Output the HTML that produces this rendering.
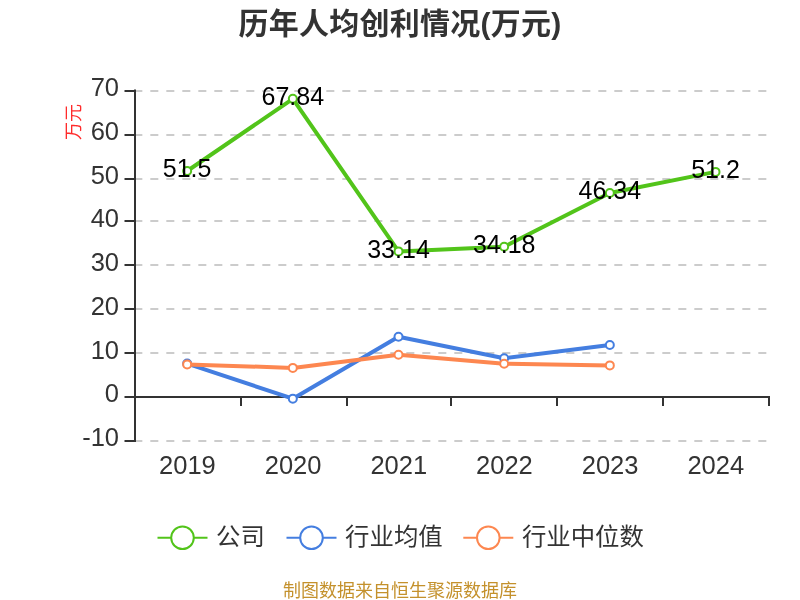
<!DOCTYPE html><html><head><meta charset="utf-8"><title>历年人均创利情况</title><style>html,body{margin:0;padding:0;background:#fff;overflow:hidden;}svg{display:block;will-change:transform;}</style></head><body>
<svg width="800" height="600" viewBox="0 0 800 600" font-family='"Liberation Sans", "Noto Sans CJK SC", sans-serif'>
<rect width="800" height="600" fill="#fff"/>
<text x="400" y="33.8" text-anchor="middle" font-size="30" font-weight="bold" letter-spacing="0.25" fill="#333">历年人均创利情况(万元)</text>
<text transform="translate(80,122) rotate(-90)" text-anchor="middle" font-size="18" fill="#ff2b2b">万元</text>
<line x1="134.33" y1="91" x2="769" y2="91" stroke="#ccc" stroke-width="2" stroke-dasharray="8 8"/>
<line x1="134.33" y1="135" x2="769" y2="135" stroke="#ccc" stroke-width="2" stroke-dasharray="8 8"/>
<line x1="134.33" y1="179" x2="769" y2="179" stroke="#ccc" stroke-width="2" stroke-dasharray="8 8"/>
<line x1="134.33" y1="221" x2="769" y2="221" stroke="#ccc" stroke-width="2" stroke-dasharray="8 8"/>
<line x1="134.33" y1="265" x2="769" y2="265" stroke="#ccc" stroke-width="2" stroke-dasharray="8 8"/>
<line x1="134.33" y1="309" x2="769" y2="309" stroke="#ccc" stroke-width="2" stroke-dasharray="8 8"/>
<line x1="134.33" y1="353" x2="769" y2="353" stroke="#ccc" stroke-width="2" stroke-dasharray="8 8"/>
<line x1="134.33" y1="441" x2="769" y2="441" stroke="#ccc" stroke-width="2" stroke-dasharray="8 8"/>
<line x1="135" y1="89.5" x2="135" y2="442" stroke="#333" stroke-width="2"/>
<line x1="124.5" y1="91" x2="135" y2="91" stroke="#333" stroke-width="2"/>
<text x="119" y="96.00" text-anchor="end" font-size="25.5" fill="#333">70</text>
<line x1="124.5" y1="135" x2="135" y2="135" stroke="#333" stroke-width="2"/>
<text x="119" y="139.75" text-anchor="end" font-size="25.5" fill="#333">60</text>
<line x1="124.5" y1="179" x2="135" y2="179" stroke="#333" stroke-width="2"/>
<text x="119" y="183.50" text-anchor="end" font-size="25.5" fill="#333">50</text>
<line x1="124.5" y1="221" x2="135" y2="221" stroke="#333" stroke-width="2"/>
<text x="119" y="227.25" text-anchor="end" font-size="25.5" fill="#333">40</text>
<line x1="124.5" y1="265" x2="135" y2="265" stroke="#333" stroke-width="2"/>
<text x="119" y="271.00" text-anchor="end" font-size="25.5" fill="#333">30</text>
<line x1="124.5" y1="309" x2="135" y2="309" stroke="#333" stroke-width="2"/>
<text x="119" y="314.75" text-anchor="end" font-size="25.5" fill="#333">20</text>
<line x1="124.5" y1="353" x2="135" y2="353" stroke="#333" stroke-width="2"/>
<text x="119" y="358.50" text-anchor="end" font-size="25.5" fill="#333">10</text>
<line x1="124.5" y1="397" x2="135" y2="397" stroke="#333" stroke-width="2"/>
<text x="119" y="402.25" text-anchor="end" font-size="25.5" fill="#333">0</text>
<line x1="124.5" y1="441" x2="135" y2="441" stroke="#333" stroke-width="2"/>
<text x="119" y="446.00" text-anchor="end" font-size="25.5" fill="#333">-10</text>
<line x1="134" y1="397" x2="770" y2="397" stroke="#333" stroke-width="2"/>
<line x1="241" y1="397" x2="241" y2="406" stroke="#333" stroke-width="2"/>
<line x1="347" y1="397" x2="347" y2="406" stroke="#333" stroke-width="2"/>
<line x1="451" y1="397" x2="451" y2="406" stroke="#333" stroke-width="2"/>
<line x1="557" y1="397" x2="557" y2="406" stroke="#333" stroke-width="2"/>
<line x1="663" y1="397" x2="663" y2="406" stroke="#333" stroke-width="2"/>
<line x1="769" y1="397" x2="769" y2="406" stroke="#333" stroke-width="2"/>
<text x="187.46" y="474" text-anchor="middle" font-size="25.5" fill="#333">2019</text>
<text x="293.13" y="474" text-anchor="middle" font-size="25.5" fill="#333">2020</text>
<text x="398.80" y="474" text-anchor="middle" font-size="25.5" fill="#333">2021</text>
<text x="504.46" y="474" text-anchor="middle" font-size="25.5" fill="#333">2022</text>
<text x="610.13" y="474" text-anchor="middle" font-size="25.5" fill="#333">2023</text>
<text x="715.80" y="474" text-anchor="middle" font-size="25.5" fill="#333">2024</text>
<polyline points="187.16,171.00 292.83,98.85 398.50,251.40 504.16,246.70 609.83,193.00 715.50,171.90" fill="none" stroke="#52c41a" stroke-width="4" stroke-linejoin="round"/>
<circle cx="187.16" cy="171.00" r="4" fill="#fff" stroke="#52c41a" stroke-width="2"/>
<circle cx="292.83" cy="98.85" r="4" fill="#fff" stroke="#52c41a" stroke-width="2"/>
<circle cx="398.50" cy="251.40" r="4" fill="#fff" stroke="#52c41a" stroke-width="2"/>
<circle cx="504.16" cy="246.70" r="4" fill="#fff" stroke="#52c41a" stroke-width="2"/>
<circle cx="609.83" cy="193.00" r="4" fill="#fff" stroke="#52c41a" stroke-width="2"/>
<circle cx="715.50" cy="171.90" r="4" fill="#fff" stroke="#52c41a" stroke-width="2"/>
<polyline points="187.16,363.60 292.83,398.65 398.50,336.70 504.16,358.20 609.83,345.00" fill="none" stroke="#447ee0" stroke-width="4" stroke-linejoin="round"/>
<circle cx="187.16" cy="363.60" r="4" fill="#fff" stroke="#447ee0" stroke-width="2"/>
<circle cx="292.83" cy="398.65" r="4" fill="#fff" stroke="#447ee0" stroke-width="2"/>
<circle cx="398.50" cy="336.70" r="4" fill="#fff" stroke="#447ee0" stroke-width="2"/>
<circle cx="504.16" cy="358.20" r="4" fill="#fff" stroke="#447ee0" stroke-width="2"/>
<circle cx="609.83" cy="345.00" r="4" fill="#fff" stroke="#447ee0" stroke-width="2"/>
<polyline points="187.16,364.40 292.83,367.90 398.50,354.80 504.16,363.80 609.83,365.40" fill="none" stroke="#fd8750" stroke-width="4" stroke-linejoin="round"/>
<circle cx="187.16" cy="364.40" r="4" fill="#fff" stroke="#fd8750" stroke-width="2"/>
<circle cx="292.83" cy="367.90" r="4" fill="#fff" stroke="#fd8750" stroke-width="2"/>
<circle cx="398.50" cy="354.80" r="4" fill="#fff" stroke="#fd8750" stroke-width="2"/>
<circle cx="504.16" cy="363.80" r="4" fill="#fff" stroke="#fd8750" stroke-width="2"/>
<circle cx="609.83" cy="365.40" r="4" fill="#fff" stroke="#fd8750" stroke-width="2"/>
<text x="187.16" y="177.40" text-anchor="middle" font-size="25" fill="#000">51.5</text>
<text x="292.83" y="105.25" text-anchor="middle" font-size="25" fill="#000">67.84</text>
<text x="398.50" y="257.80" text-anchor="middle" font-size="25" fill="#000">33.14</text>
<text x="504.16" y="253.10" text-anchor="middle" font-size="25" fill="#000">34.18</text>
<text x="609.83" y="199.40" text-anchor="middle" font-size="25" fill="#000">46.34</text>
<text x="715.50" y="178.30" text-anchor="middle" font-size="25" fill="#000">51.2</text>
<line x1="157.5" y1="537.75" x2="207.5" y2="537.75" stroke="#52c41a" stroke-width="2"/>
<circle cx="182.5" cy="537.75" r="11.3" fill="#fff" stroke="#52c41a" stroke-width="2"/>
<text x="216.1" y="544.8" font-size="24.4" fill="#333">公司</text>
<line x1="286.5" y1="537.75" x2="336.5" y2="537.75" stroke="#447ee0" stroke-width="2"/>
<circle cx="311.5" cy="537.75" r="11.3" fill="#fff" stroke="#447ee0" stroke-width="2"/>
<text x="345.1" y="544.8" font-size="24.4" fill="#333">行业均值</text>
<line x1="463.3" y1="537.75" x2="513.3" y2="537.75" stroke="#fd8750" stroke-width="2"/>
<circle cx="488.3" cy="537.75" r="11.3" fill="#fff" stroke="#fd8750" stroke-width="2"/>
<text x="521.9" y="544.8" font-size="24.4" fill="#333">行业中位数</text>
<text x="400" y="596.5" text-anchor="middle" font-size="18" fill="#c4912c">制图数据来自恒生聚源数据库</text>
</svg></body></html>
